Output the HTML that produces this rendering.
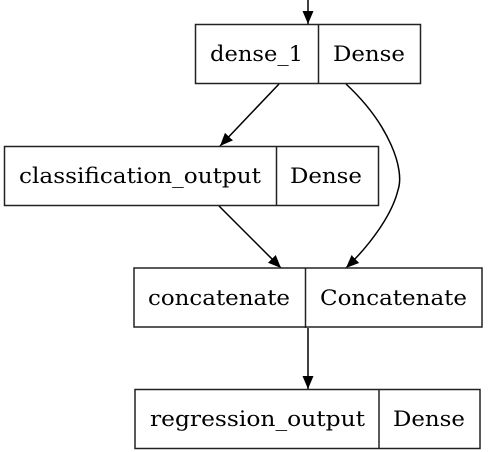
<!DOCTYPE html>
<html><head><style>html,body{margin:0;padding:0;background:#fff;}svg{display:block;}</style></head>
<body>
<svg width="502" height="452" viewBox="0 0 502 452" xmlns="http://www.w3.org/2000/svg" font-family="'DejaVu Serif','Liberation Serif',serif" font-size="21.5" fill="#000">
<defs><marker id="a" markerWidth="13" markerHeight="11" refX="13" refY="5.5" orient="auto" markerUnits="userSpaceOnUse" viewBox="0 0 13 11"><path d="M0,0 L13,5.5 L0,11 z" fill="#000"/></marker></defs>
<g fill="none" stroke="#000" stroke-width="1.5">
<line x1="308" y1="0" x2="308" y2="24" marker-end="url(#a)" />
<line x1="279" y1="84" x2="220" y2="146" marker-end="url(#a)"/>
<line x1="219" y1="206" x2="281" y2="268" marker-end="url(#a)"/>
<path d="M346,84 C390,125 405,170 398,190 C392,215 370,245 346,268" marker-end="url(#a)"/>
<line x1="308" y1="328" x2="308" y2="389" marker-end="url(#a)"/>
</g>
<g fill="#fff" stroke="#222" stroke-width="1.5">
<rect x="195.5" y="24.5" width="225" height="59"/><line x1="318.5" y1="24" x2="318.5" y2="84"/>
<rect x="4.5" y="146.5" width="374" height="59"/><line x1="276.5" y1="146" x2="276.5" y2="206"/>
<rect x="134" y="268" width="348" height="59"/><line x1="305.5" y1="268" x2="305.5" y2="328"/>
<rect x="135" y="389.5" width="345" height="59"/><line x1="379" y1="389" x2="379" y2="449"/>
</g>
<g>
<text x="210" y="61" textLength="93" lengthAdjust="spacingAndGlyphs">dense_1</text>
<text x="333" y="61" textLength="72" lengthAdjust="spacingAndGlyphs">Dense</text>
<text x="19" y="183" textLength="242" lengthAdjust="spacingAndGlyphs">classification_output</text>
<text x="290" y="183" textLength="72" lengthAdjust="spacingAndGlyphs">Dense</text>
<text x="148" y="305" textLength="142" lengthAdjust="spacingAndGlyphs">concatenate</text>
<text x="320" y="305" textLength="147" lengthAdjust="spacingAndGlyphs">Concatenate</text>
<text x="150" y="426" textLength="215" lengthAdjust="spacingAndGlyphs">regression_output</text>
<text x="393" y="426" textLength="72" lengthAdjust="spacingAndGlyphs">Dense</text>
</g>
</svg>
</body></html>
